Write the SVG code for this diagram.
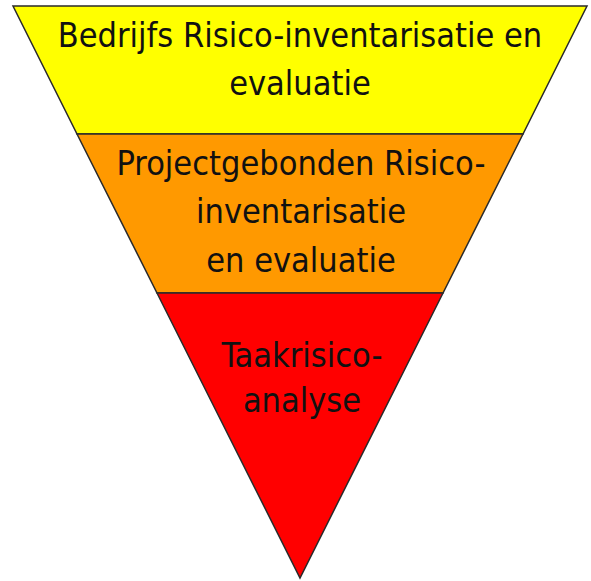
<svg xmlns="http://www.w3.org/2000/svg" width="591" height="581" viewBox="0 0 591 581">
<style>
.band{stroke:#2a2a2a;stroke-width:1.5;stroke-linejoin:miter}
.t{font-family:"DejaVu Sans Condensed","DejaVu Sans",sans-serif;font-size:34px;fill:#111;text-anchor:middle}
</style>
<rect width="591" height="581" fill="#fff"/>
<g id="bedrijfs">
<polygon class="band" fill="#FFFF00" points="13,6 587,6 523,134 77,134"/>
<text class="t" x="300" y="47">Bedrijfs Risico-inventarisatie en</text>
<text class="t" x="300" y="95">evaluatie</text>
</g>
<g id="project">
<polygon class="band" fill="#FF9900" points="77,134 523,134 443,293 157,293"/>
<text class="t" x="301" y="175">Projectgebonden Risico-</text>
<text class="t" x="301" y="223">inventarisatie</text>
<text class="t" x="301" y="272">en evaluatie</text>
</g>
<g id="taak">
<polygon class="band" fill="#FF0000" points="157,293 443,293 300,578"/>
<text class="t" x="302" y="367">Taakrisico-</text>
<text class="t" x="302" y="412">analyse</text>
</g>
<g id="connectors"/>
</svg>
